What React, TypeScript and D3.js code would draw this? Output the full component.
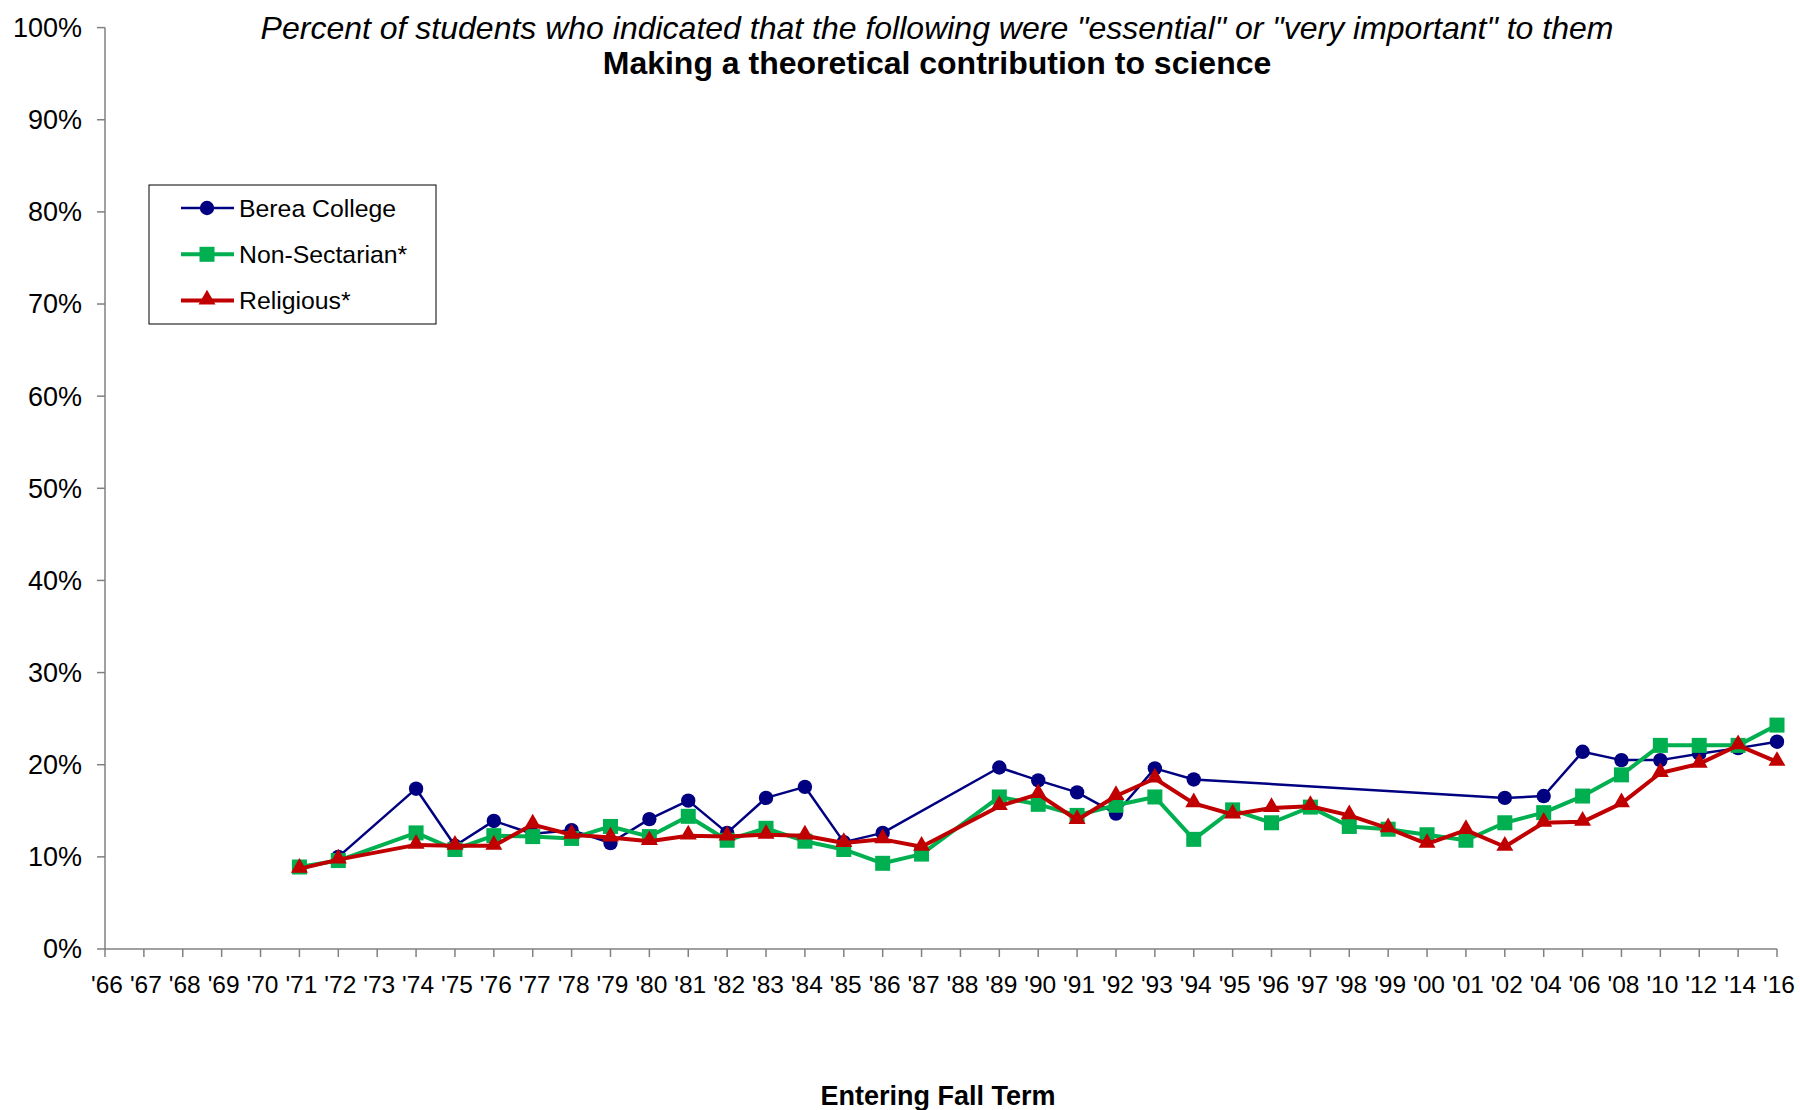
import React from "react";
import * as d3 from "d3";

const categories = ["'66","'67","'68","'69","'70","'71","'72","'73","'74","'75","'76","'77","'78","'79","'80","'81","'82","'83","'84","'85","'86","'87","'88","'89","'90","'91","'92","'93","'94","'95","'96","'97","'98","'99","'00","'01","'02","'04","'06","'08","'10","'12","'14","'16"];

const berea: (number | null)[] = [null,null,null,null,null,null,10.0,null,17.4,11.2,13.9,12.5,12.9,11.5,14.1,16.1,12.6,16.4,17.6,11.6,12.6,null,null,19.7,18.3,17.0,14.7,19.6,18.4,null,null,null,null,null,null,null,16.4,16.6,21.4,20.5,20.5,21.2,21.8,22.5];
const nonSectarian: (number | null)[] = [null,null,null,null,null,8.9,9.6,null,12.6,10.8,12.3,12.2,12.0,13.3,12.2,14.4,11.8,13.1,11.7,10.8,9.3,10.3,null,16.5,15.7,14.5,15.6,16.5,11.9,15.1,13.7,15.4,13.3,13.0,12.4,11.8,13.7,14.8,16.6,18.9,22.1,22.1,22.1,24.3];
const religious: (number | null)[] = [null,null,null,null,null,8.7,9.7,null,11.3,11.2,11.2,13.5,12.4,12.1,11.7,12.3,12.2,12.4,12.3,11.5,11.9,11.1,null,15.5,16.8,14.0,16.6,18.5,15.8,14.6,15.3,15.5,14.5,13.1,11.4,12.9,11.1,13.7,13.8,15.8,19.1,20.1,22.1,20.3];

const yTicks = [0,10,20,30,40,50,60,70,80,90,100];
const seriesNames = ["Berea College", "Non-Sectarian*", "Religious*"];
const seriesColors = ["#000080", "#00B050", "#C00000"];

const FONT = "Liberation Sans, Arial, sans-serif";

function Marker({ kind, x, y, color }: { kind: number; x: number; y: number; color: string }) {
  if (kind === 0) return <circle cx={x} cy={y} r={7.2} fill={color} />;
  if (kind === 1) return <rect x={x - 7.5} y={y - 7.5} width={15} height={15} fill={color} />;
  const s = d3.symbol().type(d3.symbolTriangle).size(125)();
  return <path d={s || ""} transform={`translate(${x},${y - 1})`} fill={color} />;
}

export default function App() {
  const W = 1800, H = 1110;
  const x = d3.scalePoint<string>().domain(categories).range([105, 1777]);
  const y = d3.scaleLinear().domain([0, 100]).range([949, 27.6]);
  const all = [berea, nonSectarian, religious];
  const widths = [2.5, 4, 4];

  return (
    <svg width={W} height={H} style={{ position: "absolute", left: 0, top: 0, background: "#fff" }} fontFamily={FONT}>
      <rect width={W} height={H} fill="#fff" />
      {/* title */}
      <text x={937} y={38.5} textAnchor="middle" fontSize={32} fontStyle="italic">
        Percent of students who indicated that the following were "essential" or "very important" to them
      </text>
      <text x={937} y={74} textAnchor="middle" fontSize={32} fontWeight="bold">
        Making a theoretical contribution to science
      </text>

      {/* axes */}
      <line x1={105} x2={105} y1={y(100)} y2={y(0)} stroke="#808080" strokeWidth={1.5} />
      <line x1={105} x2={1777} y1={y(0)} y2={y(0)} stroke="#808080" strokeWidth={1.5} />
      {yTicks.map((t) => (
        <g key={t}>
          <line x1={97} x2={105} y1={y(t)} y2={y(t)} stroke="#808080" strokeWidth={1.5} />
          <text x={82} y={y(t)} dy="0.35em" textAnchor="end" fontSize={27}>{t}%</text>
        </g>
      ))}
      {categories.map((c) => (
        <g key={c}>
          <line x1={x(c)!} x2={x(c)!} y1={y(0)} y2={y(0) + 8} stroke="#808080" strokeWidth={1.5} />
          <text x={x(c)! + 2} y={993} textAnchor="middle" fontSize={24.5}>{c}</text>
        </g>
      ))}
      <text x={938} y={1105} textAnchor="middle" fontSize={27} fontWeight="bold">Entering Fall Term</text>

      {/* series */}
      {all.map((data, si) => {
        const pts = categories
          .map((c, i) => ({ c, v: data[i] }))
          .filter((d) => d.v != null) as { c: string; v: number }[];
        const line = d3.line<{ c: string; v: number }>().x((d) => x(d.c)!).y((d) => y(d.v));
        return (
          <g key={si}>
            <path d={line(pts) || ""} fill="none" stroke={seriesColors[si]} strokeWidth={widths[si]} strokeLinejoin="round" />
            {pts.map((p) => (
              <Marker key={p.c} kind={si} x={x(p.c)!} y={y(p.v)} color={seriesColors[si]} />
            ))}
          </g>
        );
      })}

      {/* legend */}
      <rect x={149} y={185} width={287} height={139} fill="#fff" stroke="#000" strokeWidth={1} />
      {seriesNames.map((n, i) => {
        const ly = 208 + i * 46.3;
        return (
          <g key={n}>
            <line x1={181} x2={234} y1={ly} y2={ly} stroke={seriesColors[i]} strokeWidth={widths[i]} />
            <Marker kind={i} x={207} y={ly} color={seriesColors[i]} />
            <text x={239} y={ly} dy="0.35em" fontSize={24.8}>{n}</text>
          </g>
        );
      })}
    </svg>
  );
}
